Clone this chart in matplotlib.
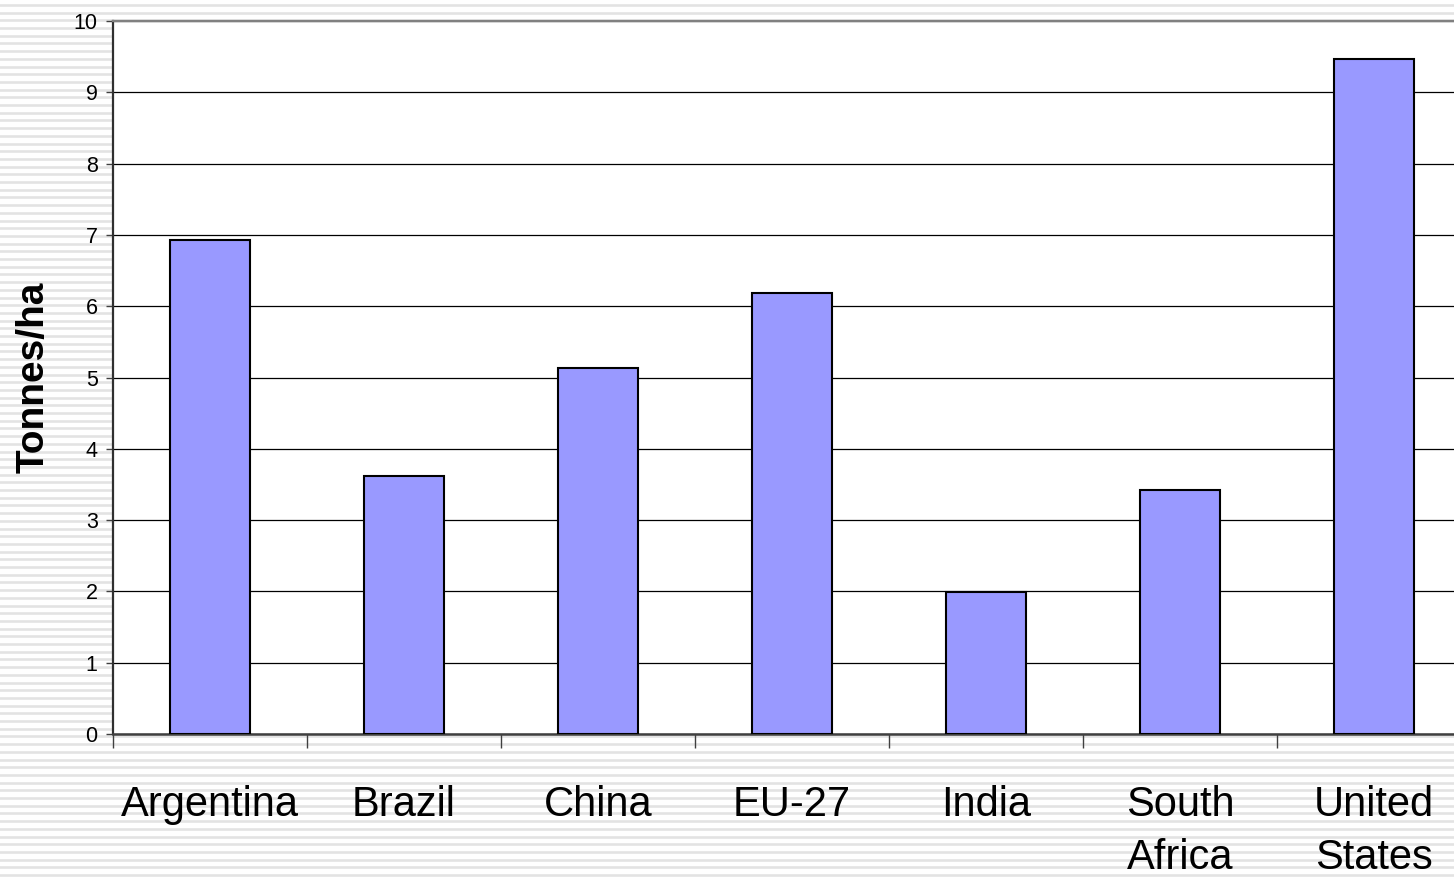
import numpy as np
import matplotlib
matplotlib.use("Agg")
import matplotlib.pyplot as plt

categories = ["Argentina", "Brazil", "China", "EU-27", "India", "South\nAfrica", "United\nStates"]
values = [6.93, 3.62, 5.14, 6.18, 1.99, 3.42, 9.47]
yticks = list(range(0, 11))

W, H = 1454, 877
fig = plt.figure(figsize=(W / 100, H / 100), dpi=100)
fig.patch.set_facecolor("white")

# striped background
bg = fig.add_axes([0, 0, 1, 1], zorder=-10)
bg.set_xlim(0, 1)
bg.set_ylim(0, H)
bg.axis("off")
for y in np.arange(2, H, 7.7):
    bg.axhline(y, color="#e3e3e3", lw=1.9)

ax = fig.add_axes([113 / W, (H - 734) / H, 1358 / W, 713 / H])
ax.set_facecolor("white")
x = np.arange(len(categories))
ax.bar(x, values, width=0.41, color="#9999ff", edgecolor="black", linewidth=1.5, zorder=3)

ax.set_xlim(-0.5, len(categories) - 0.5)
ax.set_ylim(0, 10)
ax.set_yticks(yticks)
ax.set_yticklabels([str(t) for t in yticks], fontsize=15.5, family="Liberation Sans")
ax.grid(axis="y", color="black", lw=0.9, zorder=0)
ax.set_axisbelow(True)

ax.set_xticks(x)
ax.set_xticklabels(categories, fontsize=30, family="Liberation Sans", linespacing=1.4,
                   multialignment="center")
ax.tick_params(axis="x", which="major", length=0, pad=37)
ax.set_xticks(np.arange(-0.5, len(categories) + 0.5, 1), minor=True)
ax.tick_params(axis="x", which="minor", length=10, width=1, color="#404040", direction="out")
ax.tick_params(axis="y", length=5, width=1, color="#404040", pad=6)

ax.spines["left"].set_color("#303030")
ax.spines["left"].set_linewidth(1.6)
ax.spines["bottom"].set_color("#404040")
ax.spines["bottom"].set_linewidth(1.8)
ax.spines["top"].set_color("#808080")
ax.spines["top"].set_linewidth(1.6)
ax.spines["right"].set_visible(False)

ax.set_ylabel("Tonnes/ha", fontsize=28, fontweight="bold", family="Liberation Sans", labelpad=16)

fig.savefig("out.png", dpi=100)
